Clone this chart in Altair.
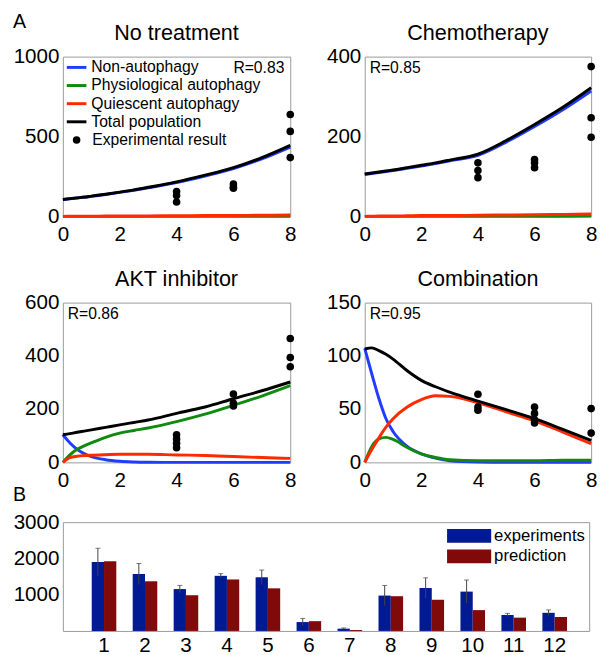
import altair as alt
import pandas as pd

FONT = "Liberation Sans"

# ---------------- data ----------------
T = [0, 0.25, 0.5, 0.75, 1, 1.5, 2, 2.5, 3, 4, 5, 6, 7, 8]
SERIES = ["Non-autophagy", "Physiological autophagy", "Quiescent autophagy", "Total population"]
COLORS = ["#1f3cff", "#0f8a0f", "#ff2a00", "#000000"]

# No treatment
nt_blue = [105, 110, 115, 120, 125, 137, 150, 164, 179, 212, 253, 299, 360, 434]
nt_green = [0, 0, 0, 0, 0, 0, 0, 0, 0, 0, 0, 0, 1, 1]
nt_red = [0, 0.5, 1, 1, 1, 2, 2, 2, 3, 4, 5, 6, 7, 9]
nt_black = [106, 111, 116, 121, 127, 139, 152, 166, 182, 216, 258, 305, 368, 445]
nt_dot_t = [4, 4, 4, 6, 6, 6, 8, 8, 8]
nt_dot_v = [155, 130, 90, 202, 184, 176, 638, 532, 368]

# Chemotherapy
ch_blue = [105, 107.5, 110, 112.5, 115, 120.5, 126, 132, 139, 153, 186, 225, 267, 314]
ch_green = [0, 0, 0, 0, 0, 0, 0, 0, 0, 0, 0, 0.5, 0.5, 1]
ch_red = [0, 0.5, 1, 1, 1, 1.5, 2, 2, 2, 3, 3.5, 4, 5, 6]
ch_black = [106, 108.5, 111, 113.5, 116, 122, 128, 134, 141, 156, 190, 230, 273, 322]
ch_dot_t = [4, 4, 4, 6, 6, 6, 8, 8, 8]
ch_dot_v = [134, 115, 97, 142, 134, 122, 375, 247, 198]

# AKT inhibitor
ak_blue = [104, 73, 49, 33, 22, 10, 4, 1.5, 0.5, 0, 0, 0, 0, 0]
ak_green = [0, 28, 49, 62, 73, 94, 110, 120, 129, 153, 181, 214, 249, 288]
ak_red = [0, 18, 23, 25.5, 27, 29, 30.5, 30.5, 30.5, 28, 26, 22, 18, 15]
ak_black = [104, 108, 113, 117.5, 122, 131.5, 141, 150, 159, 184, 208, 239, 269, 302]
ak_dot_t = [4, 4, 4, 4, 6, 6, 6, 8, 8, 8]
ak_dot_v = [104, 88, 72, 55, 257, 222, 212, 465, 394, 359]

# Combination
co_blue = [107, 83, 60, 41, 29, 15, 8, 4, 1.5, 0.3, 0, 0, 0, 0]
co_green = [0, 15, 22, 23.5, 21.5, 14, 8, 4.6, 2.5, 1.5, 1.5, 1.5, 2, 2]
co_red = [0, 12, 23, 33, 41, 52, 59, 62.5, 62, 56, 47.5, 39, 28.5, 17.5]
co_black = [106.5, 107.5, 105, 101.5, 97, 86, 77, 71, 66, 57.5, 49.5, 41, 31, 20.5]
co_dot_t = [4, 4, 4, 6, 6, 6, 6, 8, 8]
co_dot_v = [64, 52, 49, 52, 46, 40, 37, 50.5, 27.5]

# Panel B
cats = [str(i) for i in range(1, 13)]
exp_vals = [1900, 1570, 1155, 1520, 1480, 245, 63, 975, 1185, 1085, 440, 500]
exp_err = [380, 290, 100, 60, 200, 100, 20, 280, 280, 320, 45, 80]
pred_vals = [1920, 1370, 985, 1420, 1175, 270, 27, 958, 860, 575, 367, 385]
BAR_SERIES = ["experiments", "prediction"]
BAR_COLORS = ["#001a94", "#800a0a"]

ONE = pd.DataFrame({"k": [0]})


def text_at(txt, x, y, size=16, align="left"):
    return alt.Chart(ONE).mark_text(
        text=txt, font=FONT, fontSize=size, align=align, baseline="middle", color="black"
    ).encode(x=alt.value(x), y=alt.value(y))


def panel(title, ymax, yvals, curves, dot_t, dot_v, rlabel, rx, ralign, w=232, extra=None):
    xenc = alt.X("t:Q", scale=alt.Scale(domain=[0, 8], nice=False),
                 axis=alt.Axis(values=[0, 2, 4, 6, 8], labelPadding=8, labelFlush=False, format="d"),
                 title=None)
    yenc = alt.Y("v:Q", scale=alt.Scale(domain=[0, ymax], nice=False),
                 axis=alt.Axis(values=yvals, labelPadding=4, format="d"), title=None)
    layers = []
    for name, col, vals in zip(SERIES, COLORS, curves):
        df = pd.DataFrame({"t": T, "v": vals})
        layers.append(alt.Chart(df).mark_line(color=col, strokeWidth=3, interpolate="monotone")
                      .encode(x=xenc, y=yenc))
    ddf = pd.DataFrame({"t": dot_t, "v": dot_v})
    layers.append(alt.Chart(ddf).mark_circle(color="black", size=60, opacity=1).encode(x=xenc, y=yenc))
    layers.append(text_at(rlabel, rx, 12, 16, ralign))
    layers.append(text_at(title, w / 2, -24, 22, "center"))
    if extra:
        layers.extend(extra)
    return alt.layer(*layers).properties(width=w, height=163)


# legend for panel 1 (manual)
legend_layers = []
for i, (name, col) in enumerate(zip(SERIES, COLORS)):
    yy = 11 + i * 18.5
    legend_layers.append(alt.Chart(ONE).mark_rule(color=col, strokeWidth=3)
                         .encode(x=alt.value(4), x2=alt.value(24), y=alt.value(yy)))
    legend_layers.append(text_at(name, 29, yy, 16))
legend_layers.append(alt.Chart(ONE).mark_circle(color="black", size=60, opacity=1)
                     .encode(x=alt.value(14), y=alt.value(11 + 4 * 18.5)))
legend_layers.append(text_at("Experimental result", 30, 11 + 4 * 18.5, 16))
legend_layers.append(text_at("A", -51, -35, 20))

p1 = panel("No treatment", 1000, [0, 500, 1000],
           [nt_blue, nt_green, nt_red, nt_black], nt_dot_t, nt_dot_v,
           "R=0.83", 226, "right", 232, legend_layers)
p2 = panel("Chemotherapy", 400, [0, 200, 400],
           [ch_blue, ch_green, ch_red, ch_black], ch_dot_t, ch_dot_v, "R=0.85", 5, "left", 231)
p3 = panel("AKT inhibitor", 600, [0, 200, 400, 600],
           [ak_blue, ak_green, ak_red, ak_black], ak_dot_t, ak_dot_v, "R=0.86", 5, "left", 232,
           [text_at("B", -51, 196, 20)])
p4 = panel("Combination", 150, [0, 50, 100, 150],
           [co_blue, co_green, co_red, co_black], co_dot_t, co_dot_v, "R=0.95", 5, "left", 231)

# ---------------- bar chart ----------------
bars_df = pd.DataFrame({
    "c": cats * 2,
    "s": ["experiments"] * 12 + ["prediction"] * 12,
    "v": exp_vals + pred_vals,
})
err_df = pd.DataFrame({"c": cats, "s": ["experiments"] * 12, "v": exp_vals, "e": exp_err})
err_df["lo"] = err_df["v"] - err_df["e"]
err_df["hi"] = err_df["v"] + err_df["e"]

bx = alt.X("c:O", sort=cats,
           scale=alt.Scale(paddingInner=0.4, paddingOuter=0.623, align=0.565),
           axis=alt.Axis(labelAngle=0, labelPadding=4), title=None)
bxo = alt.XOffset("s:N", scale=alt.Scale(domain=BAR_SERIES, paddingInner=0, paddingOuter=0))
by = alt.Y("v:Q", scale=alt.Scale(domain=[0, 3000], nice=False),
           axis=alt.Axis(values=[1000, 2000, 3000], labelPadding=4, format="d"), title=None)

bars = alt.Chart(bars_df).mark_bar().encode(
    x=bx, xOffset=bxo, y=by,
    color=alt.Color("s:N", scale=alt.Scale(domain=BAR_SERIES, range=BAR_COLORS), legend=None),
)
errs = alt.Chart(err_df).mark_rule(color="#444", strokeWidth=1).encode(
    x=bx, xOffset=bxo, y=alt.Y("lo:Q"), y2="hi:Q")
caps = alt.Chart(err_df).mark_tick(color="#444", thickness=1, size=5).encode(
    x=bx, xOffset=bxo, y=alt.Y("hi:Q"))

bar_legend = []
for i, (name, col) in enumerate(zip(BAR_SERIES, BAR_COLORS)):
    y0 = 7 + i * 21
    bar_legend.append(alt.Chart(ONE).mark_rect(color=col)
                      .encode(x=alt.value(392), x2=alt.value(437), y=alt.value(y0), y2=alt.value(y0 + 14)))
    bar_legend.append(text_at(name, 440, y0 + 7, 17))

barchart = alt.layer(bars, errs, caps, *bar_legend).properties(width=537, height=111)

row1 = alt.hconcat(p1, p2, spacing=29)
row2 = alt.hconcat(p3, p4, spacing=29)
top = alt.vconcat(row1, row2, spacing=22)

chart = alt.vconcat(top, barchart, spacing=5).properties(
    padding={"left": 4, "top": -3, "right": 0, "bottom": -4}
).configure_view(stroke="#999", strokeWidth=1).configure_axis(
    labelFont=FONT, labelFontSize=21, labelColor="black", ticks=False, domain=False, grid=False,
)

chart.save("out.html", embed_options={"renderer": "svg", "actions": False})
